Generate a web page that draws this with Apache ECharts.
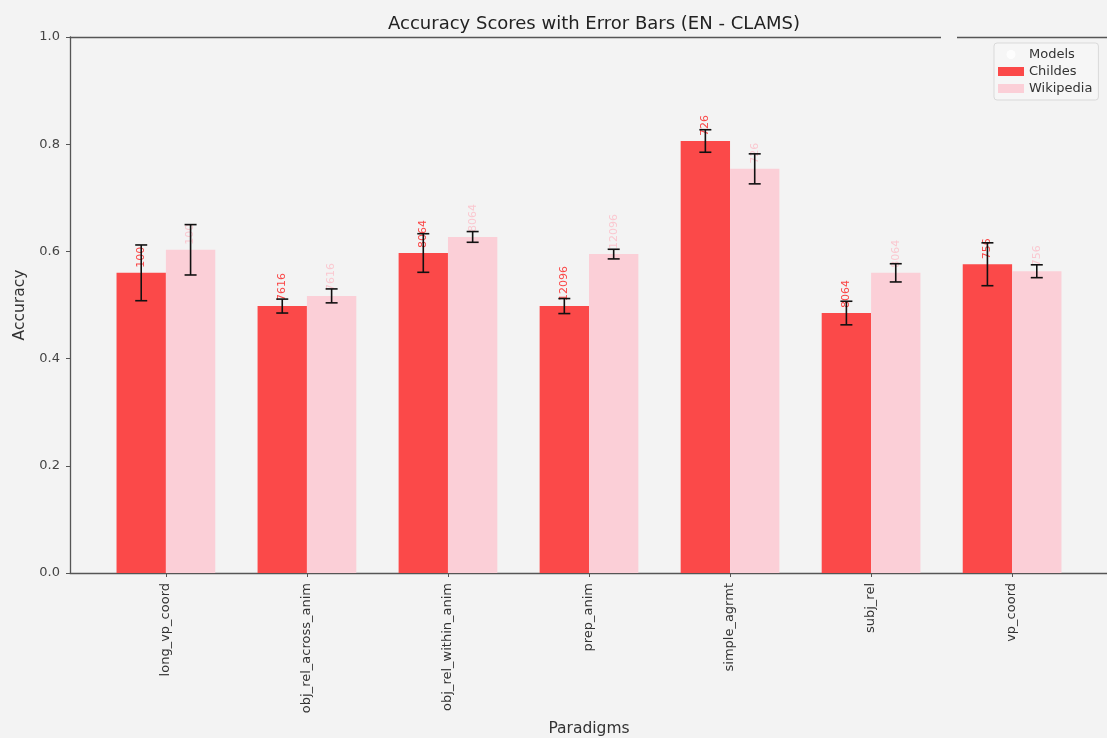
<!DOCTYPE html>
<html>
<head>
<meta charset="utf-8">
<title>Accuracy Scores with Error Bars (EN - CLAMS)</title>
<script src="https://cdn.jsdelivr.net/npm/echarts@6/dist/echarts.min.js"></script>
<style>
  html, body { margin: 0; padding: 0; background: #f3f3f3; }
  #chart { width: 1107px; height: 738px; }
</style>
</head>
<body>
<div id="chart"></div>
<script>
// Paradigms on the x axis
const paradigms = ['long_vp_coord', 'obj_rel_across_anim', 'obj_rel_within_anim', 'prep_anim', 'simple_agrmt', 'subj_rel', 'vp_coord'];

// Mean accuracy per paradigm and its error (half-width of the bar)
const childesMean = [0.560, 0.498, 0.597, 0.498, 0.806, 0.485, 0.576];
const childesErr  = [0.052, 0.013, 0.036, 0.014, 0.021, 0.022, 0.040];
const wikiMean    = [0.603, 0.517, 0.627, 0.595, 0.754, 0.560, 0.563];
const wikiErr     = [0.047, 0.013, 0.010, 0.009, 0.028, 0.017, 0.012];

// Text printed above each bar
const childesText = ['100', '7616', '8064', '12096', '726', '8064', '756'];
const wikiText    = ['100', '7616', '8064', '12096', '726', '8064', '756'];

// Y axis ticks
const yTicks = [0.0, 0.2, 0.4, 0.6, 0.8, 1.0];

const RED = 'rgb(251,73,73)';
const PINK = 'rgb(251,207,215)';
const BAR_W = 0.35;          // bar width in category units
const X_MIN = -0.68, X_MAX = 6.68;
const GRID = { left: 70, top: 37, width: 1038, height: 536 };
const pxPerUnit = GRID.width / (X_MAX - X_MIN);

const chart = echarts.init(document.getElementById('chart'), null, { renderer: 'canvas' });

function barData(means, shift) {
  return means.map((v, i) => [i + shift, v]);
}
function errData(means, errs, shift) {
  return means.map((v, i) => [i + shift, v - errs[i], v + errs[i]]);
}

function renderErr(params, api) {
  const x = api.value(0), lo = api.value(1), hi = api.value(2);
  const pHi = api.coord([x, hi]);
  const pLo = api.coord([x, lo]);
  const cap = 6;
  const st = { stroke: '#111', lineWidth: 1.6 };
  return {
    type: 'group',
    children: [
      { type: 'line', shape: { x1: pHi[0], y1: pHi[1], x2: pLo[0], y2: pLo[1] }, style: st },
      { type: 'line', shape: { x1: pHi[0] - cap, y1: pHi[1], x2: pHi[0] + cap, y2: pHi[1] }, style: st },
      { type: 'line', shape: { x1: pLo[0] - cap, y1: pLo[1], x2: pLo[0] + cap, y2: pLo[1] }, style: st }
    ]
  };
}

function valueLabel(texts, color) {
  return {
    show: true,
    position: 'top',
    distance: 5,
    rotate: 90,
    align: 'left',
    verticalAlign: 'middle',
    fontFamily: 'DejaVu Sans',
    fontSize: 11,
    color: color,
    formatter: p => texts[p.dataIndex]
  };
}

const font = 'DejaVu Sans';

const option = {
  animation: false,
  backgroundColor: '#f3f3f3',
  textStyle: { fontFamily: font },
  title: {
    text: 'Accuracy Scores with Error Bars (EN - CLAMS)',
    left: GRID.left + GRID.width / 2,
    textAlign: 'center',
    top: 10,
    textStyle: { fontFamily: font, fontSize: 18, fontWeight: 'normal', color: '#222' }
  },
  legend: {
    orient: 'vertical',
    left: 994,
    top: 43,
    padding: [5, 6, 5, 4],
    itemWidth: 26,
    itemHeight: 9,
    itemGap: 4,
    selectedMode: false,
    backgroundColor: '#f6f6f6',
    borderColor: '#d9d9d9',
    borderWidth: 1,
    borderRadius: 3,
    textStyle: { fontFamily: font, fontSize: 13, color: '#333' },
    data: [
      { name: 'Models', icon: 'circle', itemStyle: { color: '#ffffff' } },
      { name: 'Childes', icon: 'rect' },
      { name: 'Wikipedia', icon: 'rect' }
    ]
  },
  grid: {
    left: GRID.left, top: GRID.top, width: GRID.width, height: GRID.height,
    containLabel: false,
    outerBoundsMode: 'none'
  },
  xAxis: [
    {
      type: 'value',
      min: X_MIN,
      max: X_MAX,
      name: 'Paradigms',
      nameLocation: 'middle',
      nameGap: 141,
      nameTextStyle: { fontFamily: font, fontSize: 15.5, color: '#333' },
      axisLine: { show: true, onZero: false, lineStyle: { color: '#555', width: 1.3 } },
      axisTick: { show: true, length: 4, lineStyle: { color: '#555' }, customValues: paradigms.map((_, i) => i) },
      axisLabel: {
        show: true,
        rotate: 90,
        margin: 10,
        fontFamily: font,
        fontSize: 13,
        color: '#333',
        customValues: paradigms.map((_, i) => i),
        formatter: v => paradigms[Math.round(v)]
      },
      splitLine: { show: false }
    },
    {
      type: 'value',
      position: 'top',
      min: X_MIN,
      max: X_MAX,
      axisLine: { show: true, onZero: false, lineStyle: { color: '#555', width: 1.3 } },
      axisTick: { show: false },
      axisLabel: { show: false },
      splitLine: { show: false }
    }
  ],
  yAxis: {
    type: 'value',
    min: 0,
    max: 1,
    interval: 0.2,
    name: 'Accuracy',
    nameLocation: 'middle',
    nameRotate: 90,
    nameGap: 37,
    nameTextStyle: { fontFamily: font, fontSize: 15.5, color: '#333' },
    axisLine: { show: true, onZero: false, lineStyle: { color: '#555', width: 1.3 } },
    axisTick: { show: true, length: 4, lineStyle: { color: '#555' } },
    axisLabel: {
      fontFamily: font, fontSize: 13, color: '#444', margin: 10,
      customValues: yTicks,
      formatter: v => v.toFixed(1)
    },
    splitLine: { show: false }
  },
  graphic: [
    // small break in the top frame line
    { type: 'rect', shape: { x: 941, y: 33, width: 16, height: 8 }, style: { fill: '#f3f3f3' }, z: 100 }
  ],
  series: [
    {
      name: 'Models',
      type: 'scatter',
      data: [],
      itemStyle: { color: '#ffffff' }
    },
    {
      name: 'Childes',
      type: 'bar',
      barWidth: BAR_W * pxPerUnit,
      barGap: '-100%',
      z: 2,
      itemStyle: { color: RED },
      label: valueLabel(childesText, 'rgb(250,70,70)'),
      data: barData(childesMean, -BAR_W / 2)
    },
    {
      name: 'Wikipedia',
      type: 'bar',
      barWidth: BAR_W * pxPerUnit,
      barGap: '-100%',
      z: 2,
      itemStyle: { color: PINK },
      label: valueLabel(wikiText, 'rgb(250,200,208)'),
      data: barData(wikiMean, BAR_W / 2)
    },
    {
      name: 'Childes error',
      type: 'custom',
      z: 5,
      renderItem: renderErr,
      encode: { x: 0, y: [1, 2] },
      data: errData(childesMean, childesErr, -BAR_W / 2)
    },
    {
      name: 'Wikipedia error',
      type: 'custom',
      z: 5,
      renderItem: renderErr,
      encode: { x: 0, y: [1, 2] },
      data: errData(wikiMean, wikiErr, BAR_W / 2)
    }
  ]
};

chart.setOption(option);
</script>
</body>
</html>
